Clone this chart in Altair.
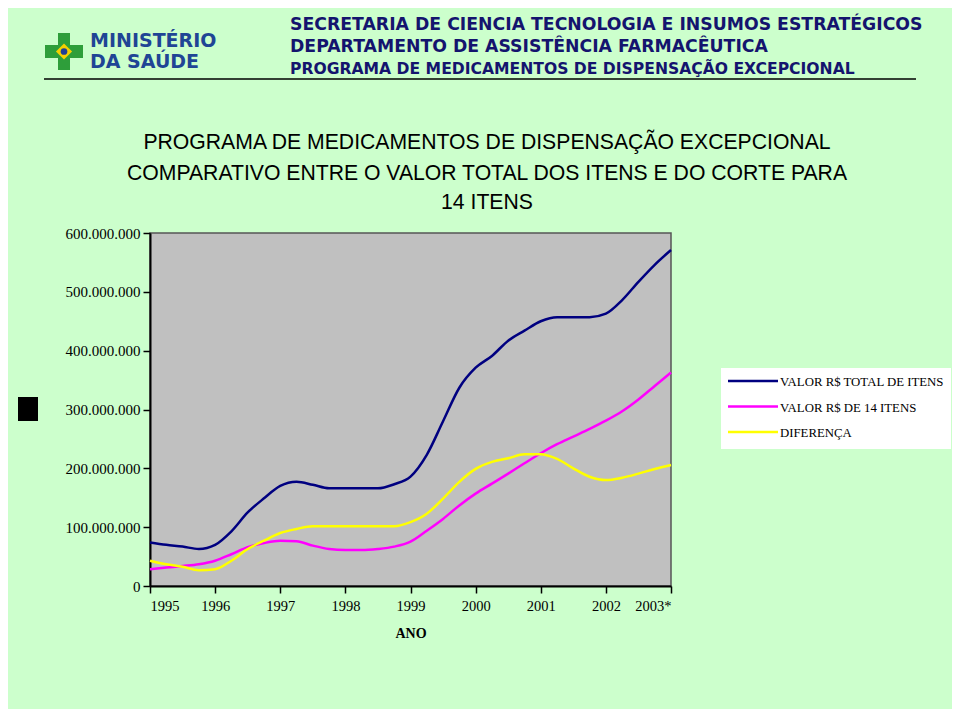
import altair as alt
import pandas as pd

# ---------------- data (millions of R$) ----------------
periodo = [1995.0, 1995.25, 1995.5, 1995.75, 1996.0, 1996.25, 1996.5, 1996.75,
           1997.0, 1997.25, 1997.5, 1997.75, 1998.0, 1998.25, 1998.5, 1998.75,
           1999.0, 1999.25, 1999.5, 1999.75, 2000.0, 2000.25, 2000.5, 2000.75,
           2001.0, 2001.25, 2001.5, 2001.75, 2002.0, 2002.25, 2002.5, 2002.75, 2003.0]
valor_total = [74, 70, 67, 63, 70, 93, 125, 149,
               170, 177, 172, 166, 166, 166, 166, 173,
               186, 223, 280, 337, 371, 391, 417, 434,
               450, 457, 457, 457, 463, 486, 517, 546, 571]
valor_14 = [28.6, 31.4, 34, 37, 43, 54, 66, 73,
            77, 76, 68.6, 62.9, 61, 61, 62.9, 66.9,
            75.4, 94, 114, 137, 157, 174, 191, 208.6,
            225.7, 241, 254, 267, 281, 297, 317, 340, 363]
diferenca = [43, 37, 32.6, 26.9, 28.6, 43, 62.9, 77,
             90, 97, 101.7, 101.7, 101.7, 101.7, 101.7, 101.7,
             108.6, 122.9, 148.6, 177, 199, 211, 217, 224,
             224, 216, 200, 185.7, 180, 184, 191, 199, 205.7]
series = ["VALOR R$ TOTAL DE ITENS", "VALOR R$ DE 14 ITENS", "DIFERENÇA"]
cores = ["#000080", "#FF00FF", "#FFFF00"]
anos = [1995, 1996, 1997, 1998, 1999, 2000, 2001, 2002, 2003]
y_ticks = [0, 100e6, 200e6, 300e6, 400e6, 500e6, 600e6]

header = ["SECRETARIA DE CIENCIA TECNOLOGIA E INSUMOS ESTRATÉGICOS",
          "DEPARTAMENTO DE ASSISTÊNCIA FARMACÊUTICA",
          "PROGRAMA DE MEDICAMENTOS DE DISPENSAÇÃO EXCEPCIONAL"]
header_sizes = [17.3, 17.3, 15.6]
titulo = ["PROGRAMA DE MEDICAMENTOS DE DISPENSAÇÃO EXCEPCIONAL",
          "COMPARATIVO ENTRE O VALOR TOTAL DOS ITENS E DO CORTE PARA",
          "14 ITENS"]

rows = []
for nome, vals in zip(series, [valor_total, valor_14, diferenca]):
    for p, v in zip(periodo, vals):
        rows.append({"periodo": p, "valor": v * 1e6, "serie": nome})
df = pd.DataFrame(rows)

# plot origin in page coordinates
OX, OY = 150, 233
def px(x): return x - OX
def py(y): return y - OY

one = alt.Data(values=[{}])

lines = alt.Chart(df).mark_line(interpolate="monotone", strokeWidth=2.5).encode(
    x=alt.X("periodo:Q",
            scale=alt.Scale(domain=[1995, 2003], nice=False, zero=False),
            axis=alt.Axis(values=anos, format="d",
                          labelExpr="datum.value == 2003 ? '2003*' : format(datum.value, 'd')",
                          title="ANO", titleFont="Liberation Serif", titleFontSize=14,
                          titleFontWeight="bold", titleColor="black", titlePadding=14,
                          labelFont="Liberation Serif", labelFontSize=14.5, labelColor="black",
                          labelPadding=6, tickSize=7, tickColor="black", tickWidth=1.5,
                          domainColor="black", domainWidth=2, grid=False)),
    y=alt.Y("valor:Q",
            scale=alt.Scale(domain=[0, 600e6], nice=False),
            axis=alt.Axis(values=y_ticks, title=None,
                          labelExpr="replace(format(datum.value, ','), regexp(',', 'g'), '.')",
                          labelFont="Liberation Serif", labelFontSize=15, labelColor="black",
                          labelPadding=3, tickSize=7, tickColor="black", tickWidth=1.5,
                          domainColor="black", domainWidth=2, grid=False)),
    color=alt.Color("serie:N", scale=alt.Scale(domain=series, range=cores), legend=None),
)

layers = [lines]

# header text
for i, (t, fs) in enumerate(zip(header, header_sizes)):
    layers.append(alt.Chart(one).mark_text(
        text=t, font="DejaVu Sans", fontWeight="bold", fontSize=fs, color="#14146E",
        align="left", baseline="middle").encode(x=alt.value(px(290)), y=alt.value(py(25 + i * 22))))
layers.append(alt.Chart(one).mark_rule(color="black", strokeWidth=1.5).encode(
    x=alt.value(px(44)), x2=alt.value(px(916)), y=alt.value(py(79))))

# logo
layers.append(alt.Chart(one).mark_rect(color="#2E9E3A").encode(
    x=alt.value(px(45)), x2=alt.value(px(83)), y=alt.value(py(45)), y2=alt.value(py(58))))
layers.append(alt.Chart(one).mark_rect(color="#2E9E3A").encode(
    x=alt.value(px(58)), x2=alt.value(px(70)), y=alt.value(py(33)), y2=alt.value(py(70))))
layers.append(alt.Chart(one).mark_point(shape="diamond", filled=True, color="#F5D000", size=260, opacity=1).encode(
    x=alt.value(px(64)), y=alt.value(py(51.5))))
layers.append(alt.Chart(one).mark_point(shape="circle", filled=True, color="#1F3F95", size=45, opacity=1).encode(
    x=alt.value(px(64)), y=alt.value(py(51.5))))
for t, yy in [("MINISTÉRIO", 41), ("DA SAÚDE", 62)]:
    layers.append(alt.Chart(one).mark_text(
        text=t, font="DejaVu Sans", fontWeight="bold", fontSize=19, color="#1F4595",
        align="left", baseline="middle").encode(x=alt.value(px(90)), y=alt.value(py(yy))))

# chart title
for t, yy in zip(titulo, [143, 174, 203]):
    layers.append(alt.Chart(one).mark_text(
        text=t, font="Liberation Sans", fontSize=21.2, color="black",
        align="center", baseline="middle").encode(x=alt.value(px(487)), y=alt.value(py(yy))))

# black square artefact
layers.append(alt.Chart(one).mark_rect(color="black").encode(
    x=alt.value(px(18)), x2=alt.value(px(38)), y=alt.value(py(397)), y2=alt.value(py(421))))

# legend box
layers.append(alt.Chart(one).mark_rect(color="white").encode(
    x=alt.value(px(721)), x2=alt.value(px(951)), y=alt.value(py(368)), y2=alt.value(py(449))))
for i, (nome, cor) in enumerate(zip(series, cores)):
    yy = 381 + i * 25.5
    layers.append(alt.Chart(one).mark_rule(color=cor, strokeWidth=2.5).encode(
        x=alt.value(px(728)), x2=alt.value(px(778)), y=alt.value(py(yy))))
    layers.append(alt.Chart(one).mark_text(
        text=nome, font="Liberation Serif", fontSize=12.8, color="black",
        align="left", baseline="middle").encode(x=alt.value(px(780)), y=alt.value(py(yy + 1))))

chart = alt.layer(*layers).properties(
    width=521, height=353,
    autosize=alt.AutoSizeParams(type="none"),
    padding={"left": 142, "top": 225, "right": 281, "bottom": 123},
    background="#CCFFCC",
).configure_view(fill="#C0C0C0", stroke="#555555", strokeWidth=1.5)

chart.save("out.html", embed_options={"renderer": "svg", "actions": False})
